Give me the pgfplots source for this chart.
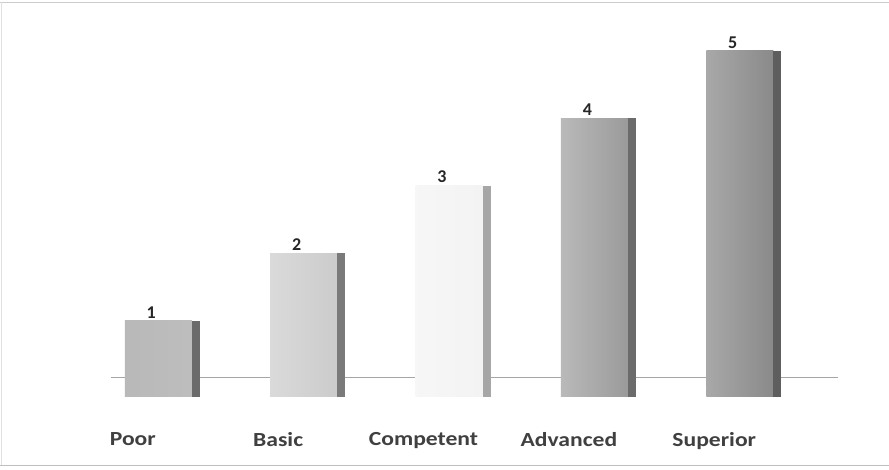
\documentclass[border=0pt]{standalone}
\usepackage{pgfplots}
\pgfplotsset{compat=1.18}
\usepackage{fontspec}
\setmainfont{Carlito}
\definecolor{fP}{HTML}{ACACAC}
\definecolor{fB}{HTML}{D6D6D6}
\definecolor{fC}{HTML}{F3F3F3}
\definecolor{fA}{HTML}{A8A8A8}
\definecolor{fS}{HTML}{999999}
\begin{document}
\begin{tikzpicture}[x=1pt,y=1pt]
\useasboundingbox (0,0) rectangle (889,470);
\draw[black!25, line width=0.8pt] (0,5) -- (889,5);
\draw[black!20, line width=0.6pt] (0,468) -- (889,468);
\draw[black!12, line width=0.6pt] (1,5) -- (1,468);
\begin{axis}[
  at={(46pt,82pt)}, anchor=south west,
  scale only axis, width=785pt, height=371pt,
  xmin=-0.8, xmax=4.6, ymin=0, ymax=5.5,
  axis lines=none, clip=false,
  xtick={0,1,2,3,4},
  xticklabels={Poor,Basic,Competent,Advanced,Superior},
  ytick=\empty,
  ybar,
  /pgf/number format/assume math mode=true,
  nodes near coords,
  every node near coord/.append style={font=\fontsize{18}{21}\selectfont\bfseries, text=black!85, xshift=-7pt, yshift=-1pt},
]
\addplot[sharp plot, draw=black!35, line width=0.8pt, nodes near coords={}, forget plot] coordinates {(-0.35,0.15) (4.65,0.15)};
% front faces
\addplot[bar width=67pt, bar shift=-4pt, draw=none, left color=fP!85, right color=fP!110!black] coordinates {(0,1)};
\addplot[bar width=67pt, bar shift=-4pt, draw=none, left color=fB!90, right color=fB!95!black] coordinates {(1,2)};
\addplot[bar width=67pt, bar shift=-4pt, draw=none, left color=fC!70, right color=fC] coordinates {(2,3)};
\addplot[bar width=67pt, bar shift=-4pt, draw=none, left color=fA!80, right color=fA!92!black] coordinates {(3,4)};
\addplot[bar width=67pt, bar shift=-4pt, draw=none, left color=fS!85, right color=fS!90!black] coordinates {(4,5)};
% lower stubs of the front faces (3D depth)
\addplot[bar width=67pt, bar shift=-4pt, draw=none, left color=fP!85, right color=fP!110!black, nodes near coords={}] coordinates {(0,-0.13)};
\addplot[bar width=67pt, bar shift=-4pt, draw=none, left color=fB!90, right color=fB!95!black, nodes near coords={}] coordinates {(1,-0.13)};
\addplot[bar width=67pt, bar shift=-4pt, draw=none, left color=fC!70, right color=fC, nodes near coords={}] coordinates {(2,-0.13)};
\addplot[bar width=67pt, bar shift=-4pt, draw=none, left color=fA!80, right color=fA!92!black, nodes near coords={}] coordinates {(3,-0.13)};
\addplot[bar width=67pt, bar shift=-4pt, draw=none, left color=fS!85, right color=fS!90!black, nodes near coords={}] coordinates {(4,-0.13)};
% side strips
\addplot[bar width=8pt, bar shift=33.5pt, draw=none, fill=black!58, nodes near coords={}] coordinates {(0,1)};
\addplot[bar width=8pt, bar shift=33.5pt, draw=none, fill=black!52, nodes near coords={}] coordinates {(1,2)};
\addplot[bar width=8pt, bar shift=33.5pt, draw=none, fill=black!35, nodes near coords={}] coordinates {(2,3)};
\addplot[bar width=8pt, bar shift=33.5pt, draw=none, fill=black!58, nodes near coords={}] coordinates {(3,4)};
\addplot[bar width=8pt, bar shift=33.5pt, draw=none, fill=black!63, nodes near coords={}] coordinates {(4,5)};
\addplot[bar width=8pt, bar shift=33.5pt, draw=none, fill=black!58, nodes near coords={}] coordinates {(0,-0.13)};
\addplot[bar width=8pt, bar shift=33.5pt, draw=none, fill=black!52, nodes near coords={}] coordinates {(1,-0.13)};
\addplot[bar width=8pt, bar shift=33.5pt, draw=none, fill=black!35, nodes near coords={}] coordinates {(2,-0.13)};
\addplot[bar width=8pt, bar shift=33.5pt, draw=none, fill=black!58, nodes near coords={}] coordinates {(3,-0.13)};
\addplot[bar width=8pt, bar shift=33.5pt, draw=none, fill=black!63, nodes near coords={}] coordinates {(4,-0.13)};
\end{axis}
\begin{axis}[
  at={(46pt,82pt)}, anchor=south west,
  scale only axis, width=785pt, height=371pt,
  xmin=-0.8, xmax=4.6, ymin=0, ymax=5.5,
  clip=false,
  xtick={0,1,2,3,4},
  xticklabels={Poor,Basic,Competent,Advanced,Superior},
  ytick=\empty,
  xticklabel style={font=\fontsize{20}{23}\selectfont\bfseries, text=black!75, xscale=1.18, xshift=-25pt, yshift=-41pt},
  axis line style={draw=none}, major tick length=0pt,
]
\addplot[draw=none, forget plot] coordinates {(0,0)};
\end{axis}
\end{tikzpicture}
\end{document}
